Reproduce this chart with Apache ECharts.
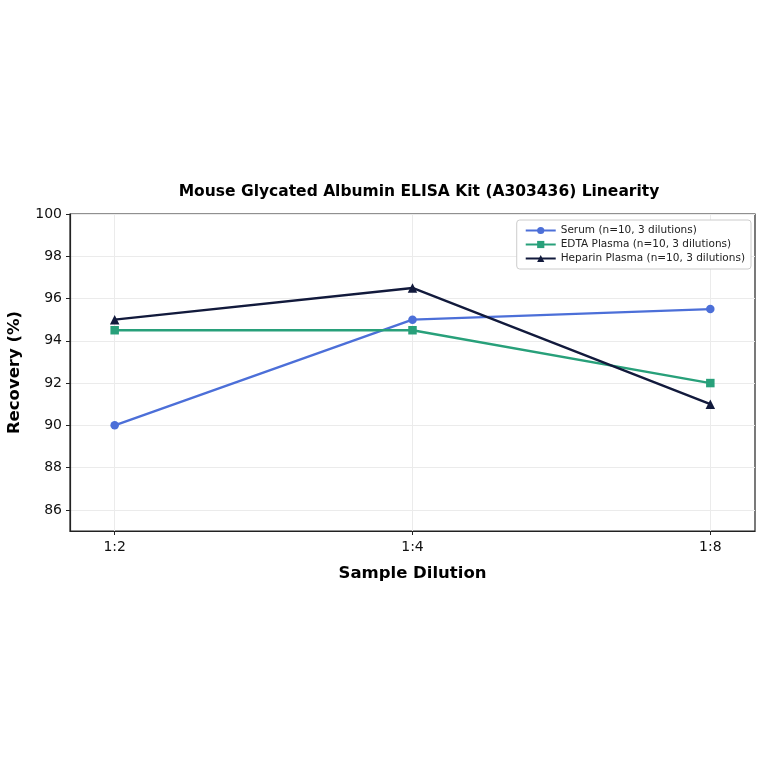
<!DOCTYPE html>
<html><head><meta charset="utf-8">
<script src="https://cdn.jsdelivr.net/npm/echarts@6/dist/echarts.min.js"></script>
<style>html,body{margin:0;padding:0;background:#fff}#c{width:764px;height:764px}</style>
</head><body><div id="c"></div>
<script>
const categories = ['1:2', '1:4', '1:8'];
const serum = [90, 95, 95.5];
const edta = [94.5, 94.5, 92];
const heparin = [95, 96.5, 91];
const yTicks = [86, 88, 90, 92, 94, 96, 98, 100];
const seriesNames = ['Serum (n=10, 3 dilutions)', 'EDTA Plasma (n=10, 3 dilutions)', 'Heparin Plasma (n=10, 3 dilutions)'];

const F = 'DejaVu Sans';
const toPts = arr => arr.map((v, i) => [i, v]);
const chart = echarts.init(document.getElementById('c'));
chart.setOption({
  animation: false,
  title: {
    text: 'Mouse Glycated Albumin ELISA Kit (A303436) Linearity',
    left: 414, top: 179, textAlign: 'center',
    textStyle: { fontFamily: F, fontSize: 15.5, fontWeight: 'bold', color: '#000' }
  },
  grid: { left: 70, right: 9, top: 214, bottom: 233, outerBoundsMode: 'none', show: true, borderColor: '#222', borderWidth: 1.2, backgroundColor: 'transparent' },
  legend: {
    right: 13, top: 220, orient: 'vertical', itemGap: 3,
    itemWidth: 30, itemHeight: 9,
    backgroundColor: '#fff', borderColor: '#ccc', borderWidth: 1, borderRadius: 3,
    padding: [5, 6, 5, 8],
    textStyle: { fontFamily: F, fontSize: 10.5, color: '#222' },
    data: seriesNames
  },
  xAxis: {
    type: 'value', min: -0.15, max: 2.15,
    name: 'Sample Dilution', nameLocation: 'middle', nameGap: 34,
    nameTextStyle: { fontFamily: F, fontSize: 16.5, fontWeight: 'bold', color: '#000' },
    axisLine: { show: true, onZero: false, lineStyle: { color: '#222', width: 1.2 } },
    axisTick: { show: true, customValues: [0, 1, 2], length: 4, lineStyle: { color: '#222' } },
    axisLabel: { customValues: [0, 1, 2], formatter: v => categories[Math.round(v)] || '', fontFamily: F, fontSize: 14, color: '#111', margin: 9 },
    splitLine: { show: true, lineStyle: { color: '#ebebeb', width: 1 } }
  },
  yAxis: {
    type: 'value', min: 85, max: 100,
    name: 'Recovery (%)', nameLocation: 'middle', nameGap: 47,
    nameTextStyle: { fontFamily: F, fontSize: 16.5, fontWeight: 'bold', color: '#000' },
    axisLine: { show: true, onZero: false, lineStyle: { color: '#222', width: 1.2 } },
    axisTick: { show: true, customValues: yTicks, length: 4, lineStyle: { color: '#222' } },
    axisLabel: { customValues: yTicks, fontFamily: F, fontSize: 14, color: '#111', margin: 8 },
    splitLine: { show: true, lineStyle: { color: '#ebebeb', width: 1 } }
  },
  series: [
    { name: seriesNames[0], type: 'line', data: toPts(serum), symbol: 'circle', symbolSize: 8.5,
      itemStyle: { color: '#4c6fd8' }, lineStyle: { width: 2.4 } },
    { name: seriesNames[1], type: 'line', data: toPts(edta), symbol: 'rect', symbolSize: 8.5,
      itemStyle: { color: '#28a07a' }, lineStyle: { width: 2.4 } },
    { name: seriesNames[2], type: 'line', data: toPts(heparin), symbol: 'triangle', symbolSize: 9.5,
      itemStyle: { color: '#121a3c' }, lineStyle: { width: 2.4 } }
  ]
});
</script></body></html>
